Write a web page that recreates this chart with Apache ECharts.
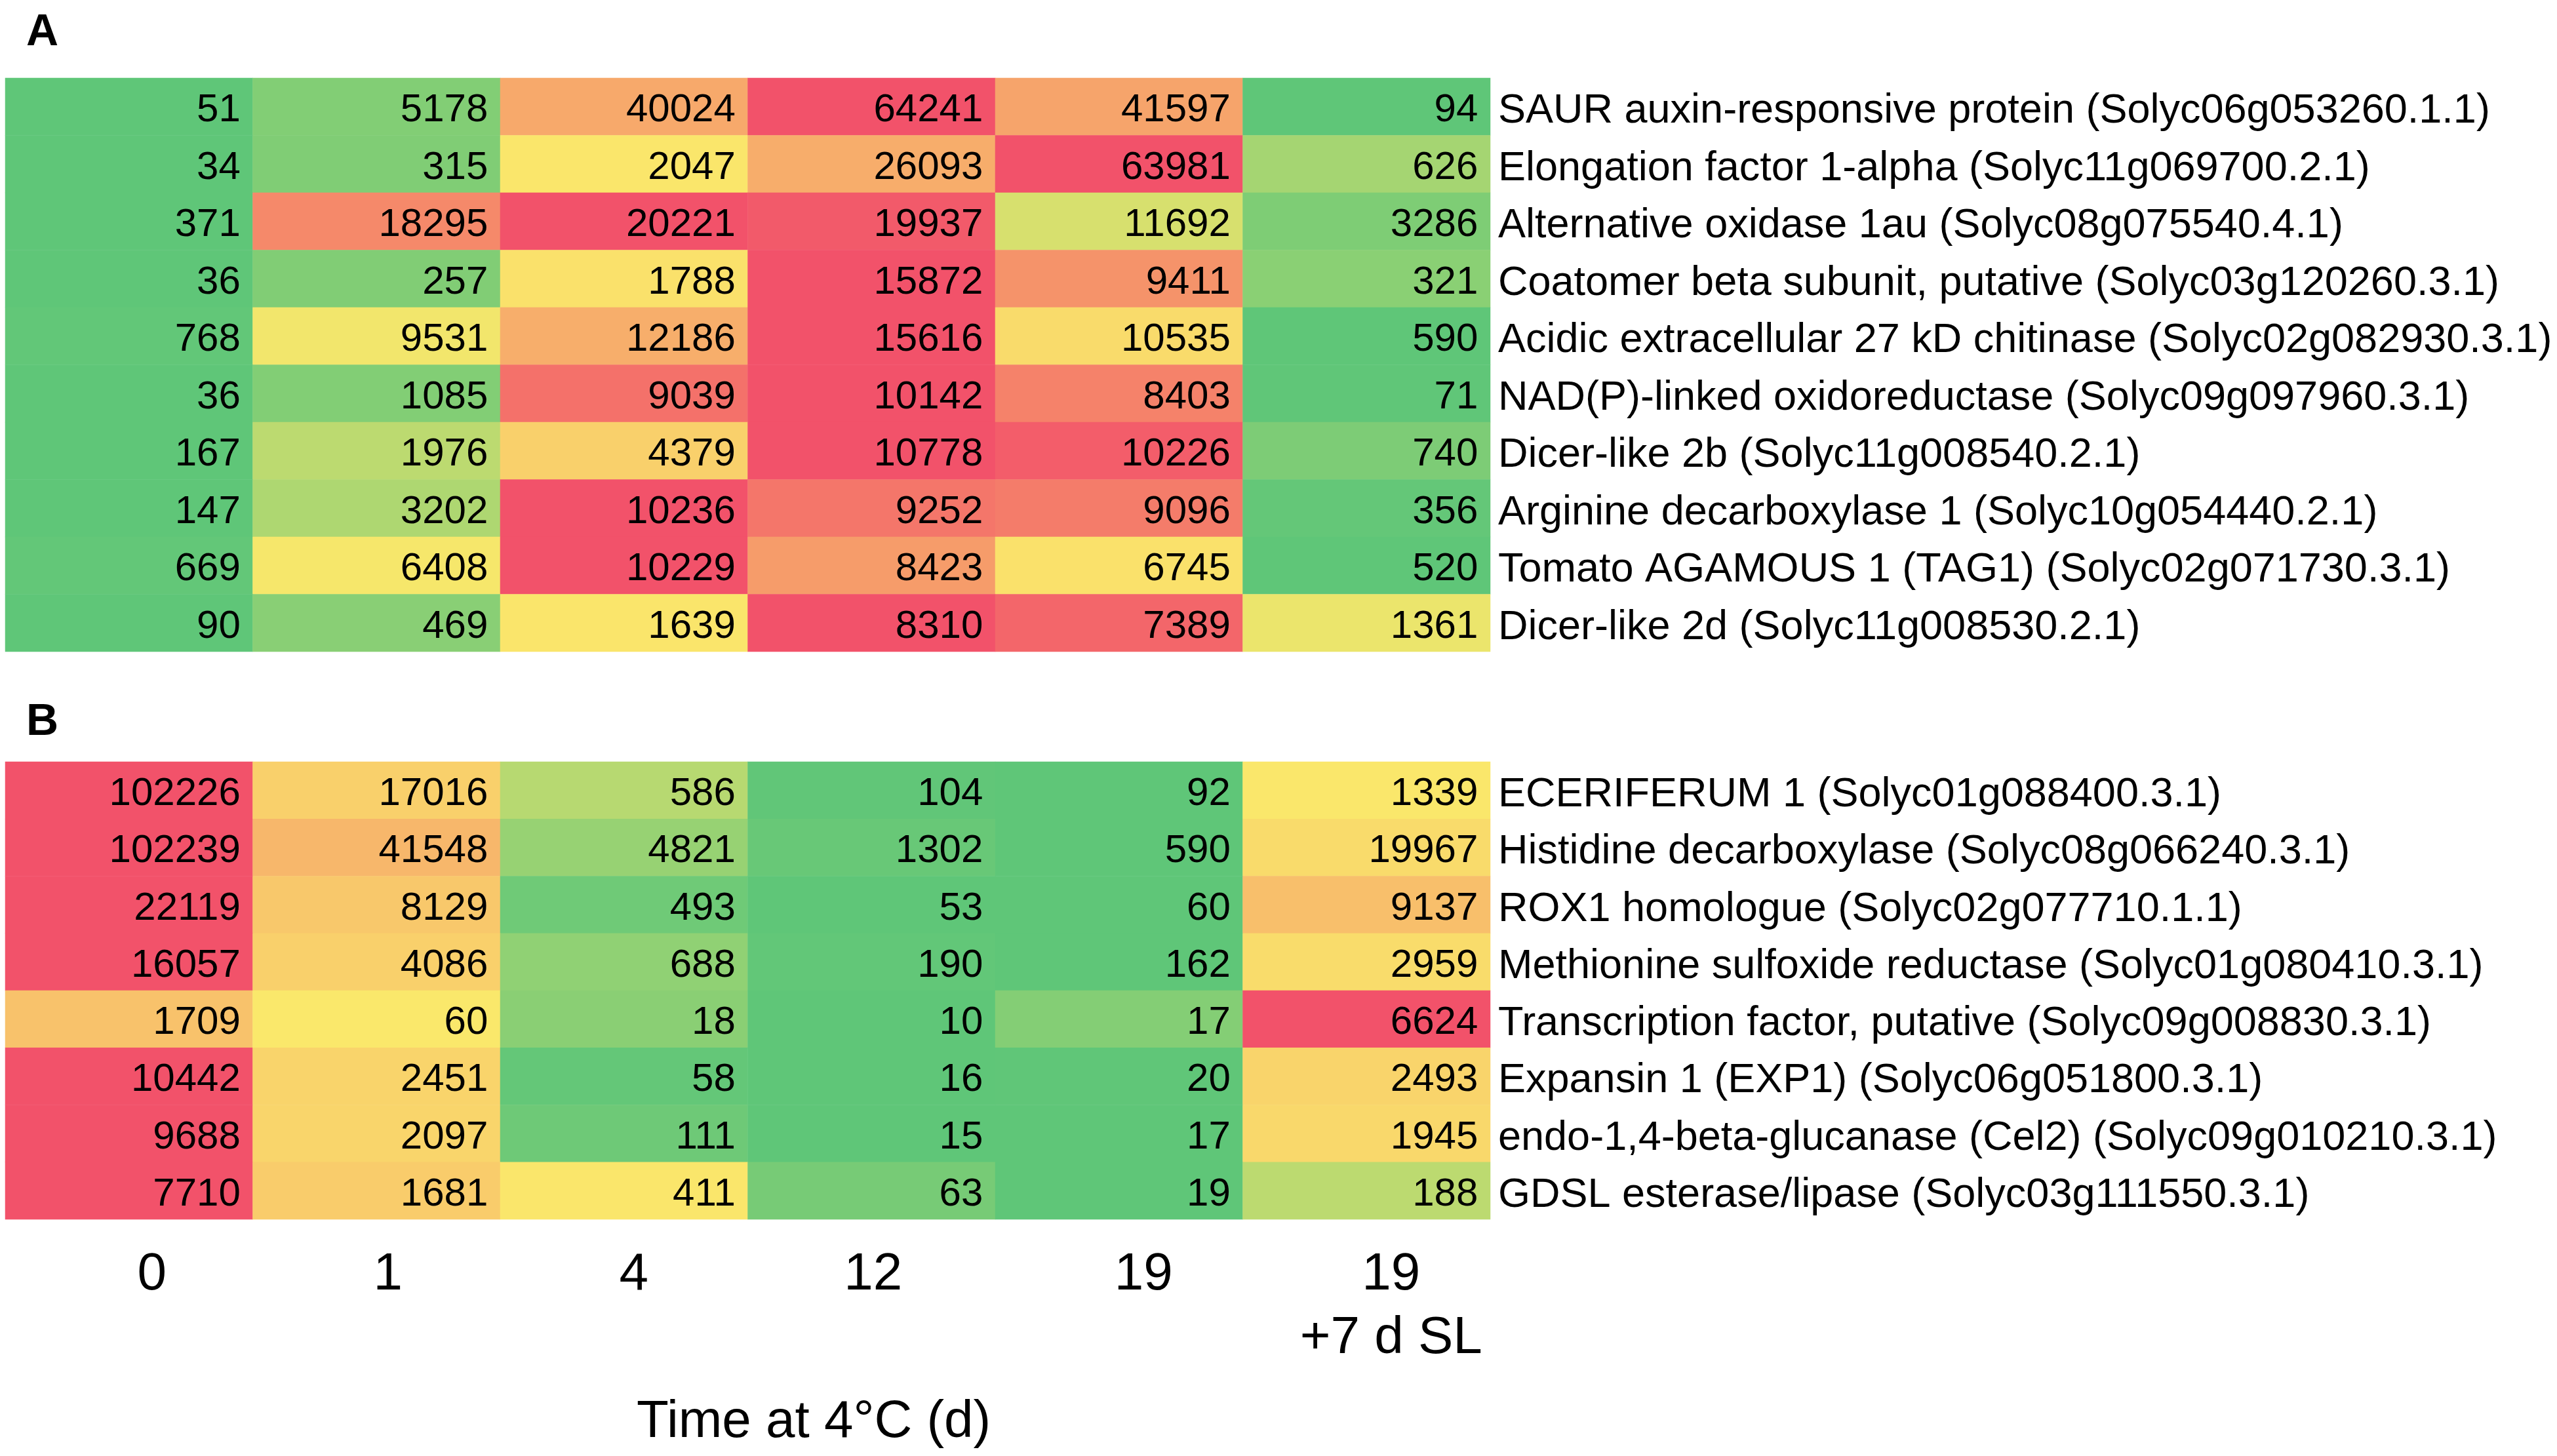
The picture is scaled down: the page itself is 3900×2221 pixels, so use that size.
<!DOCTYPE html>
<html>
<head>
<meta charset="utf-8">
<script src="https://cdn.jsdelivr.net/npm/echarts@6/dist/echarts.min.js"></script>
<style>
  html, body { margin: 0; padding: 0; background: #fff; }
  #chart { width: 3900px; height: 2221px; }
</style>
</head>
<body>
<div id="chart"></div>
<script>
// time points (columns)
const timeLabels = ['0', '1', '4', '12', '19', '19\n+7 d SL'];

// panel A genes and counts
const genesA = [
  'SAUR auxin-responsive protein (Solyc06g053260.1.1)',
  'Elongation factor 1-alpha (Solyc11g069700.2.1)',
  'Alternative oxidase 1au (Solyc08g075540.4.1)',
  'Coatomer beta subunit, putative (Solyc03g120260.3.1)',
  'Acidic extracellular 27 kD chitinase (Solyc02g082930.3.1)',
  'NAD(P)-linked oxidoreductase (Solyc09g097960.3.1)',
  'Dicer-like 2b (Solyc11g008540.2.1)',
  'Arginine decarboxylase 1 (Solyc10g054440.2.1)',
  'Tomato AGAMOUS 1 (TAG1) (Solyc02g071730.3.1)',
  'Dicer-like 2d (Solyc11g008530.2.1)'
];
const valuesA = [
  [51, 5178, 40024, 64241, 41597, 94],
  [34, 315, 2047, 26093, 63981, 626],
  [371, 18295, 20221, 19937, 11692, 3286],
  [36, 257, 1788, 15872, 9411, 321],
  [768, 9531, 12186, 15616, 10535, 590],
  [36, 1085, 9039, 10142, 8403, 71],
  [167, 1976, 4379, 10778, 10226, 740],
  [147, 3202, 10236, 9252, 9096, 356],
  [669, 6408, 10229, 8423, 6745, 520],
  [90, 469, 1639, 8310, 7389, 1361]
];

// panel B genes and counts
const genesB = [
  'ECERIFERUM 1 (Solyc01g088400.3.1)',
  'Histidine decarboxylase (Solyc08g066240.3.1)',
  'ROX1 homologue (Solyc02g077710.1.1)',
  'Methionine sulfoxide reductase (Solyc01g080410.3.1)',
  'Transcription factor, putative (Solyc09g008830.3.1)',
  'Expansin 1 (EXP1) (Solyc06g051800.3.1)',
  'endo-1,4-beta-glucanase (Cel2) (Solyc09g010210.3.1)',
  'GDSL esterase/lipase (Solyc03g111550.3.1)'
];
const valuesB = [
  [102226, 17016, 586, 104, 92, 1339],
  [102239, 41548, 4821, 1302, 590, 19967],
  [22119, 8129, 493, 53, 60, 9137],
  [16057, 4086, 688, 190, 162, 2959],
  [1709, 60, 18, 10, 17, 6624],
  [10442, 2451, 58, 16, 20, 2493],
  [9688, 2097, 111, 15, 17, 1945],
  [7710, 1681, 411, 63, 19, 188]
];

const FONT = 'Liberation Sans, Arial, Helvetica, sans-serif';

// row-wise 3 colour scale: min -> 0, median -> 1, max -> 2
function toCells(values) {
  var out = [];
  values.forEach(function (row, r) {
    var s = row.slice().sort(function (a, b) { return a - b; });
    var n = s.length;
    var mid = n % 2 ? s[(n - 1) / 2] : (s[n / 2 - 1] + s[n / 2]) / 2;
    var lo = s[0], hi = s[n - 1];
    row.forEach(function (v, c) {
      var t;
      if (v <= mid) t = mid > lo ? (v - lo) / (mid - lo) : 0;
      else t = 1 + (hi > mid ? (v - mid) / (hi - mid) : 0);
      out.push([c, r, v, t]);
    });
  });
  return out;
}

var chart = echarts.init(document.getElementById('chart'));

var axisBase = {
  type: 'category',
  axisLine: { show: false },
  axisTick: { show: false },
  splitLine: { show: false }
};

// tick labels in the figure sit a little right of the column centres
var tickRich = {};
[70, 35, 30, 5, 75, 75].forEach(function (p, i) {
  tickRich['c' + i] = { fontSize: 80, lineHeight: 97, color: '#000', fontFamily: FONT, padding: [0, 0, 0, p] };
});

function cellSeries(idx, data) {
  return {
    type: 'heatmap',
    xAxisIndex: idx,
    yAxisIndex: idx,
    data: data,
    encode: { x: 0, y: 1 },
    label: {
      show: true,
      position: 'insideRight',
      distance: 19,
      offset: [0, 6],
      formatter: function (p) { return p.value[2]; },
      fontSize: 60,
      fontFamily: FONT,
      color: '#000'
    },
    emphasis: { disabled: true },
    itemStyle: { borderWidth: 0 }
  };
}

var geneLabel = {
  fontSize: 63, margin: 12, color: '#000', fontFamily: FONT, interval: 0,
  formatter: function (v) { return '{g|' + v + '}'; },
  rich: { g: { fontSize: 63, color: '#000', fontFamily: FONT, padding: [14, 0, 0, 0] } }
};

var option = {
  backgroundColor: '#fff',
  animation: false,
  title: [
    { text: 'A', left: 40, top: 16, padding: 0,
      textStyle: { fontSize: 68, fontWeight: 'bold', fontFamily: FONT, color: '#000' } },
    { text: 'B', left: 40, top: 1068, padding: 0,
      textStyle: { fontSize: 68, fontWeight: 'bold', fontFamily: FONT, color: '#000' } }
  ],
  grid: [
    { left: 8, top: 119, width: 2265, height: 875 },
    { left: 8, top: 1162, width: 2265, height: 698 }
  ],
  xAxis: [
    Object.assign({}, axisBase, { gridIndex: 0, data: timeLabels, axisLabel: { show: false } }),
    Object.assign({}, axisBase, {
      gridIndex: 1, data: timeLabels,
      axisLabel: {
        fontSize: 80, lineHeight: 97, margin: 36, color: '#000', fontFamily: FONT, interval: 0,
        rich: tickRich,
        formatter: function (v, i) {
          return v.split('\n').map(function (s) { return '{c' + i + '|' + s + '}'; }).join('\n');
        }
      }
    })
  ],
  yAxis: [
    Object.assign({}, axisBase, {
      gridIndex: 0, data: genesA, inverse: true, position: 'right', axisLabel: geneLabel
    }),
    Object.assign({}, axisBase, {
      gridIndex: 1, data: genesB, inverse: true, position: 'right', axisLabel: geneLabel
    })
  ],
  visualMap: [
    { type: 'continuous', show: false, seriesIndex: 0, dimension: 3, min: 0, max: 2,
      inRange: { color: ['#5FC678', '#FAE86B', '#F2526A'] } },
    { type: 'continuous', show: false, seriesIndex: 1, dimension: 3, min: 0, max: 2,
      inRange: { color: ['#5FC678', '#FAE86B', '#F2526A'] } }
  ],
  series: [
    cellSeries(0, toCells(valuesA)),
    cellSeries(1, toCells(valuesB))
  ],
  graphic: [
    { type: 'text', left: 1244 - 273, top: 2130,
      style: { text: 'Time at 4°C (d)', fontSize: 80, fontFamily: FONT, fill: '#000' } }
  ]
};

chart.setOption(option);
</script>
</body>
</html>
